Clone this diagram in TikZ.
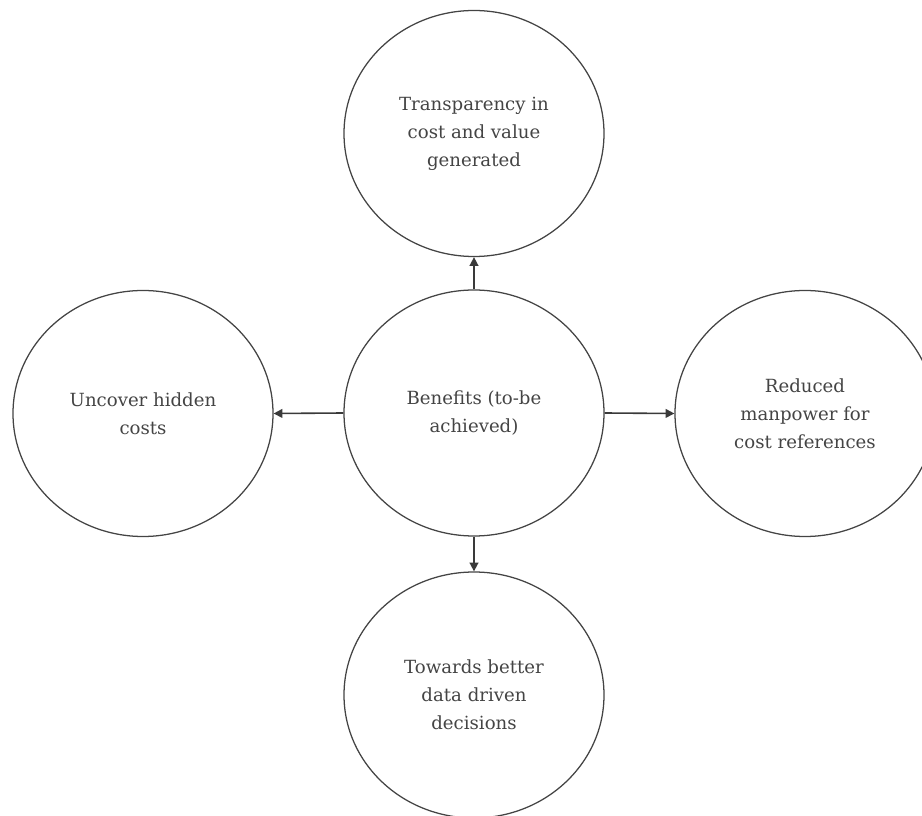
\documentclass[tikz,border=0pt]{standalone}
\usepackage{fontspec}
\setmainfont{DejaVu Serif}
\usetikzlibrary{shapes.geometric,arrows.meta}
\definecolor{rim}{HTML}{444444}
\definecolor{ink}{HTML}{3A3A3A}
\definecolor{txt}{HTML}{444444}
\begin{document}
\begin{tikzpicture}[x=0.75pt,y=-0.75pt,
  bubble/.style={draw=rim,line width=0.95pt,ellipse,minimum width=195pt,minimum height=184.5pt,inner sep=0pt,
    align=center,text=txt,font=\fontsize{13.6}{21}\selectfont},
  link/.style={draw=ink,line width=1.2pt,-{Triangle[length=6.5pt,width=6.5pt]}}]
\useasboundingbox (0,0) rectangle (922,816);
\clip (0,0) rectangle (922,816);
\node[bubble] (ctr) at (474,413) {Benefits (to-be\\achieved)};
\node[bubble] (top) at (474,133.5) {Transparency in\\cost and value\\generated};
\node[bubble] (lft) at (143,413.5) {Uncover hidden\\costs};
\node[bubble] (rgt) at (805,413.5) {Reduced\\manpower for\\cost references};
\node[bubble] (bot) at (474,695) {Towards better\\data driven\\decisions};
\draw[link] (ctr.north) -- (top.south);
\draw[link] (ctr.west) -- (lft.east);
\draw[link] (ctr.east) -- (rgt.west);
\draw[link] (ctr.south) -- (bot.north);
\end{tikzpicture}
\end{document}
